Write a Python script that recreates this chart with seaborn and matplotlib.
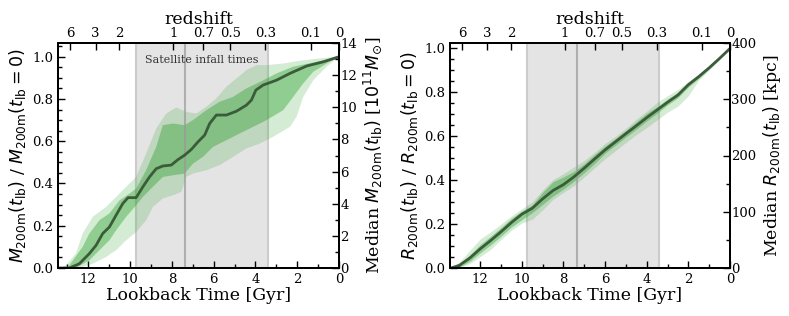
import numpy as np
import matplotlib
matplotlib.use("Agg")
import matplotlib.pyplot as plt
import seaborn as sns
from matplotlib.ticker import MultipleLocator

sns.set_style("ticks")
plt.rcParams["font.family"] = ["DejaVu Serif"]
plt.rcParams["mathtext.fontset"] = "dejavusans"
for k in ["axes.edgecolor", "xtick.color", "ytick.color", "text.color", "axes.labelcolor"]:
    plt.rcParams[k] = "black"

# ---------------- data ----------------
# Left panel: M200m(t_lb)/M200m(0)
med_m_t = [13.45, 12.9, 12.43, 11.95, 11.63, 11.31, 10.99, 10.67, 10.35, 10.1, 9.71, 9.39, 9.07,
           8.75, 8.43, 8.03, 7.71, 7.39, 7.07, 6.75, 6.43, 6.19, 5.87, 5.39, 4.91, 4.43, 4.19,
           3.98, 3.63, 2.99, 2.35, 1.55, 0.75, 0.0]
med_m_v = [0.0, 0.0, 0.02, 0.068, 0.107, 0.163, 0.194, 0.25, 0.305, 0.333, 0.333, 0.384, 0.431,
           0.47, 0.483, 0.487, 0.513, 0.534, 0.561, 0.597, 0.629, 0.684, 0.724, 0.724, 0.742, 0.771,
           0.795, 0.842, 0.866, 0.889, 0.921, 0.956, 0.976, 1.0]

inner_hi_m_t = [13.0, 12.27, 11.95, 11.47, 10.99, 10.51, 10.03, 9.71, 9.23, 8.75, 8.43, 7.95, 7.39,
                6.99, 6.35, 5.71, 5.07, 4.43, 3.79, 2.99, 2.19, 1.07, 0.0]
inner_hi_m_v = [0.0, 0.1, 0.163, 0.226, 0.258, 0.32, 0.352, 0.376, 0.463, 0.573, 0.676, 0.684, 0.676,
                0.7, 0.747, 0.787, 0.81, 0.85, 0.88, 0.921, 0.953, 0.976, 1.0]
inner_lo_m_t = [12.59, 11.95, 11.47, 10.99, 10.67, 10.19, 9.71, 9.39, 8.91, 8.43, 7.95, 7.39, 6.99,
                6.51, 6.03, 5.39, 4.75, 4.11, 3.47, 2.67, 2.19, 1.71, 1.23, 0.59, 0.0]
inner_lo_m_v = [0.0, 0.036, 0.084, 0.131, 0.178, 0.242, 0.297, 0.336, 0.384, 0.431, 0.439, 0.447, 0.494,
                0.526, 0.573, 0.605, 0.637, 0.668, 0.7, 0.747, 0.81, 0.874, 0.929, 0.968, 1.0]
outer_hi_m_t = [13.3, 13.07, 12.59, 12.27, 11.79, 11.15, 10.67, 10.19, 9.71, 9.23, 8.75, 8.27, 7.79,
                7.31, 6.83, 6.35, 5.87, 5.39, 4.91, 4.43, 3.95, 3.47, 2.67, 1.87, 0.91, 0.0]
outer_hi_m_v = [0.0, 0.013, 0.068, 0.163, 0.242, 0.289, 0.336, 0.384, 0.431, 0.542, 0.66, 0.731, 0.76,
                0.739, 0.731, 0.763, 0.803, 0.858, 0.897, 0.937, 0.96, 0.96, 0.968, 0.981, 0.992, 1.0]
outer_lo_m_t = [12.43, 11.79, 11.15, 10.67, 10.19, 9.71, 9.23, 8.91, 8.43, 7.95, 7.55, 7.31, 6.99,
                6.35, 5.71, 5.07, 4.43, 3.79, 3.15, 2.35, 2.03, 1.71, 1.23, 0.59, 0.0]
outer_lo_m_v = [0.0, 0.02, 0.052, 0.084, 0.131, 0.17, 0.226, 0.289, 0.329, 0.344, 0.36, 0.431, 0.447,
                0.463, 0.487, 0.526, 0.566, 0.589, 0.621, 0.668, 0.716, 0.81, 0.889, 0.953, 1.0]

# Right panel: R200m(t_lb)/R200m(0)
r_t = [13.4, 13.0, 12.5, 12.0, 11.5, 11.0, 10.5, 10.0, 9.5, 9.0, 8.5, 8.0, 7.5, 7.0, 6.5, 6.0,
       5.5, 5.0, 4.5, 4.0, 3.5, 3.0, 2.5, 2.0, 1.5, 1.0, 0.5, 0.0]
med_r = [0.0, 0.012, 0.045, 0.087, 0.125, 0.165, 0.207, 0.245, 0.272, 0.315, 0.353, 0.380, 0.415,
         0.455, 0.497, 0.538, 0.575, 0.612, 0.648, 0.685, 0.720, 0.755, 0.788, 0.835, 0.872, 0.912,
         0.955, 1.0]
inner_lo_r = [0.0, 0.004, 0.030, 0.069, 0.105, 0.145, 0.187, 0.220, 0.252, 0.290, 0.328, 0.360, 0.395,
              0.435, 0.477, 0.523, 0.560, 0.597, 0.633, 0.670, 0.705, 0.743, 0.776, 0.825, 0.864, 0.907,
              0.952, 1.0]
inner_hi_r = [0.0, 0.020, 0.060, 0.107, 0.145, 0.185, 0.227, 0.260, 0.287, 0.345, 0.393, 0.415, 0.440,
              0.475, 0.517, 0.556, 0.590, 0.627, 0.666, 0.705, 0.735, 0.770, 0.800, 0.845, 0.880, 0.917,
              0.958, 1.0]
outer_lo_r = [0.0, 0.000, 0.020, 0.052, 0.085, 0.130, 0.172, 0.205, 0.222, 0.265, 0.313, 0.345, 0.375,
              0.415, 0.457, 0.498, 0.535, 0.572, 0.608, 0.640, 0.675, 0.710, 0.738, 0.785, 0.857, 0.902,
              0.950, 1.0]
outer_hi_r = [0.0, 0.027, 0.080, 0.132, 0.165, 0.200, 0.237, 0.270, 0.302, 0.355, 0.403, 0.430, 0.460,
              0.490, 0.527, 0.568, 0.600, 0.637, 0.678, 0.715, 0.755, 0.785, 0.813, 0.850, 0.882, 0.920,
              0.960, 1.0]

infall_lo, infall_hi, infall_med = 3.42, 9.73, 7.36
z_ticks = [6, 3, 2, 1, 0.7, 0.5, 0.3, 0.1, 0]
z_labels = ["6", "3", "2", "1", "0.7", "0.5", "0.3", "0.1", "0"]
T_MAX = 13.45
M_TOP, M_RIGHT_TOP = 1.065, 14
R_TOP, R_RIGHT_TOP = 1.025, 400

# Planck-like cosmology for the redshift axis
H0, Om = 67.74, 0.3089
def lookback(z):
    zz = np.linspace(0, z, 2001)
    E = np.sqrt(Om * (1 + zz) ** 3 + (1 - Om))
    return 977.8 / H0 * np.trapezoid(1.0 / ((1 + zz) * E), zz)

z_pos = [lookback(z) for z in z_ticks]

GREEN = "#2ca02c"
LINE = "#3b5b3b"

fig = plt.figure(figsize=(7.89, 3.16), dpi=100)
ax1 = fig.add_axes([58 / 789, 48 / 316, 281 / 789, 225 / 316])
ax2 = fig.add_axes([450 / 789, 48 / 316, 280 / 789, 225 / 316])


def band(ax, t_hi, v_hi, t_lo, v_lo, alpha):
    xs = np.concatenate([np.array(t_hi), np.array(t_lo)[::-1]])
    ys = np.concatenate([np.array(v_hi), np.array(v_lo)[::-1]])
    ax.fill(xs, ys, color=GREEN, alpha=alpha, lw=0, zorder=2)


def style(ax, ytop, rtop, rmaj, rmin, rlabel, ylabel):
    ax.axvspan(infall_lo, infall_hi, facecolor="#e4e4e4", edgecolor="#cccccc", lw=1.5, zorder=0)
    ax.axvline(infall_med, color="#999999", lw=1.5, alpha=0.7, zorder=3)
    ax.set_xlim(T_MAX, 0)
    ax.set_ylim(0, ytop)
    ax.xaxis.set_major_locator(MultipleLocator(2))
    ax.xaxis.set_minor_locator(MultipleLocator(1))
    ax.yaxis.set_major_locator(MultipleLocator(0.2))
    ax.yaxis.set_minor_locator(MultipleLocator(0.05))
    ax.tick_params(which="both", direction="in", top=False, right=False, labelsize=9.5, width=1)
    ax.tick_params(which="major", length=5)
    ax.tick_params(which="minor", length=3)
    ax.set_xlabel("Lookback Time [Gyr]", fontsize=12.5, labelpad=1)
    ax.set_ylabel(ylabel, fontsize=12.5, labelpad=3)
    for s in ax.spines.values():
        s.set_linewidth(1.3)

    axr = ax.twinx()
    axr.set_ylim(0, rtop)
    axr.yaxis.set_major_locator(MultipleLocator(rmaj))
    axr.yaxis.set_minor_locator(MultipleLocator(rmin))
    axr.tick_params(which="both", direction="in", labelsize=9.5, width=1, pad=1)
    axr.tick_params(which="major", length=5)
    axr.tick_params(which="minor", length=3)
    axr.set_ylabel(rlabel, fontsize=12.5, labelpad=3)
    for s in axr.spines.values():
        s.set_linewidth(1.3)

    axt = ax.twiny()
    axt.set_xlim(T_MAX, 0)
    axt.set_xticks(z_pos)
    axt.set_xticklabels(z_labels)
    axt.xaxis.set_minor_locator(matplotlib.ticker.NullLocator())
    axt.tick_params(direction="in", labelsize=9.5, length=5, width=1, pad=2)
    axt.set_xlabel("redshift", fontsize=12.5, labelpad=2)
    for s in axt.spines.values():
        s.set_linewidth(1.3)


# Left panel
band(ax1, outer_hi_m_t, outer_hi_m_v, outer_lo_m_t, outer_lo_m_v, 0.2)
band(ax1, inner_hi_m_t, inner_hi_m_v, inner_lo_m_t, inner_lo_m_v, 0.4)
sns.lineplot(x=med_m_t, y=med_m_v, ax=ax1, color=LINE, lw=2, zorder=4, sort=False)
ax1.text((infall_lo + infall_hi) / 2, 0.985, "Satellite infall times", ha="center", va="center",
         fontsize=8, color="#333333", zorder=5)
style(ax1, M_TOP, M_RIGHT_TOP, 2, 1,
      r"Median $M_{\rm 200m}(t_{\rm lb})$ [$10^{11} M_{\odot}$]",
      r"$M_{\rm 200m}(t_{\rm lb})$ / $M_{\rm 200m}(t_{\rm lb}=0)$")

# Right panel
ax2.fill_between(r_t, outer_lo_r, outer_hi_r, color=GREEN, alpha=0.2, lw=0, zorder=2)
ax2.fill_between(r_t, inner_lo_r, inner_hi_r, color=GREEN, alpha=0.4, lw=0, zorder=2)
sns.lineplot(x=r_t, y=med_r, ax=ax2, color=LINE, lw=2, zorder=4, sort=False)
style(ax2, R_TOP, R_RIGHT_TOP, 100, 50,
      r"Median $R_{\rm 200m}(t_{\rm lb})$ [kpc]",
      r"$R_{\rm 200m}(t_{\rm lb})$ / $R_{\rm 200m}(t_{\rm lb}=0)$")

fig.savefig("out.png", dpi=100)
